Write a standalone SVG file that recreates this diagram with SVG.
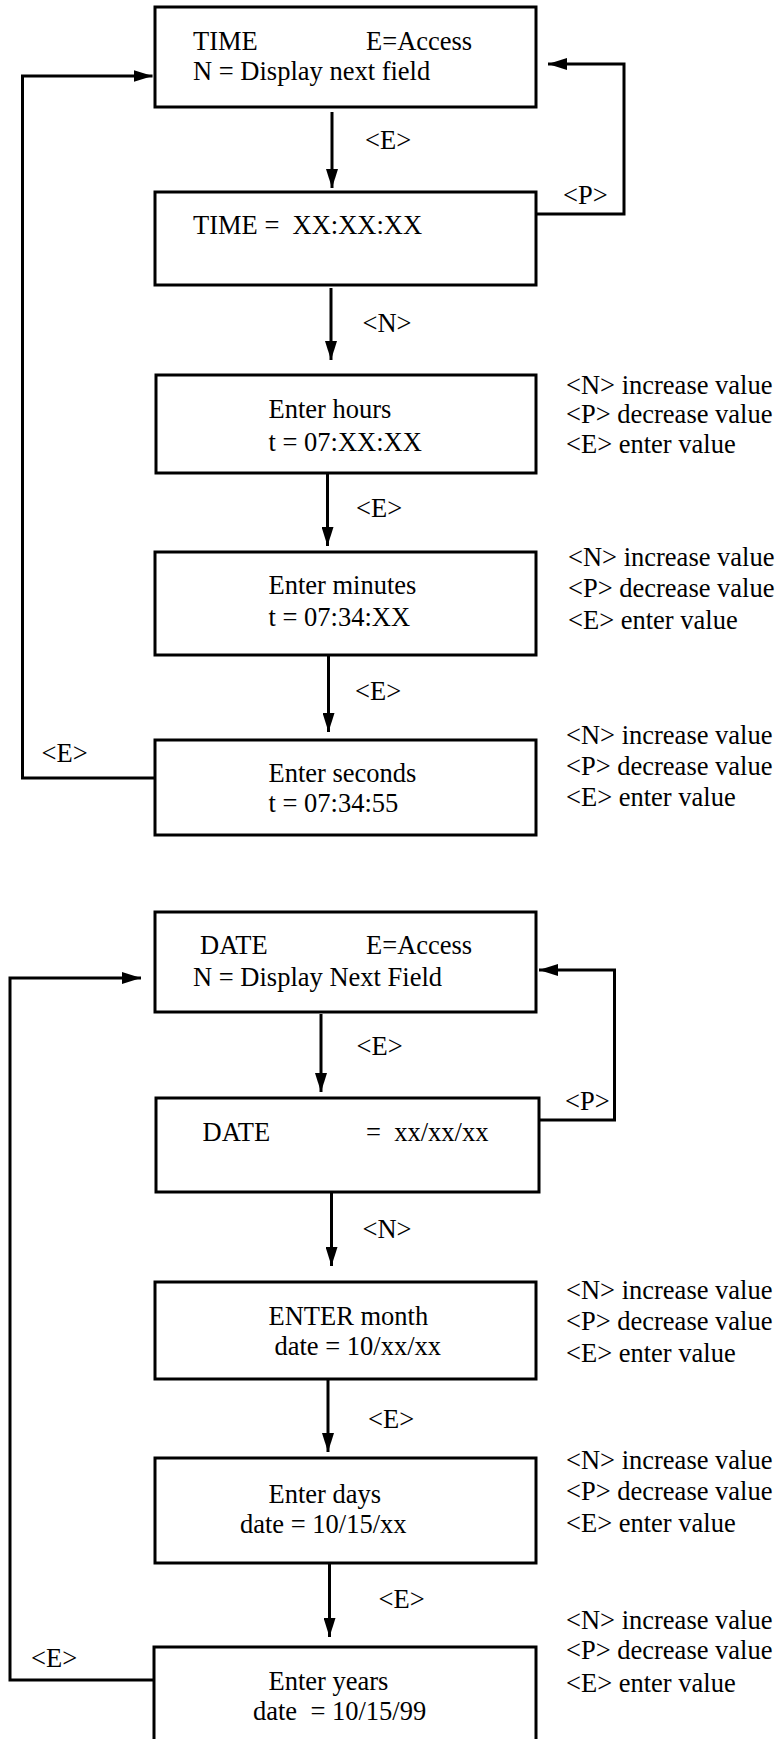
<svg xmlns="http://www.w3.org/2000/svg" width="781" height="1739" viewBox="0 0 781 1739">
<style>
text{font-family:"Liberation Serif","Times New Roman",serif;font-size:26.5px;fill:#000;white-space:pre}
.box{fill:#fff;stroke:#000;stroke-width:3}
.wire{fill:none;stroke:#000;stroke-width:3}
</style>
<defs>
<marker id="ah" markerUnits="userSpaceOnUse" markerWidth="19" markerHeight="12" refX="19" refY="6" orient="auto">
<path d="M0,0 L19,6 L0,12 z" fill="#000"/>
</marker>
</defs>
<rect width="781" height="1739" fill="#fff"/>
<g id="connectors">
<path class="wire" d="M332,112 V188" marker-end="url(#ah)"/>
<path class="wire" d="M331,288 V360" marker-end="url(#ah)"/>
<path class="wire" d="M327.5,473 V546" marker-end="url(#ah)"/>
<path class="wire" d="M328.5,655 V732" marker-end="url(#ah)"/>
<path class="wire" d="M535,214 H624 V64 H548" marker-end="url(#ah)"/>
<path class="wire" d="M155,778 H22.5 V76 H152.5" marker-end="url(#ah)"/>
<path class="wire" d="M321,1014 V1092" marker-end="url(#ah)"/>
<path class="wire" d="M331.5,1193 V1266" marker-end="url(#ah)"/>
<path class="wire" d="M328,1379 V1452" marker-end="url(#ah)"/>
<path class="wire" d="M329.5,1563 V1637" marker-end="url(#ah)"/>
<path class="wire" d="M540,1120 H614.5 V970 H539" marker-end="url(#ah)"/>
<path class="wire" d="M154,1680 H10 V978 H141" marker-end="url(#ah)"/>
<text x="365" y="149">&lt;E&gt;</text>
<text x="563" y="204">&lt;P&gt;</text>
<text x="362.5" y="332">&lt;N&gt;</text>
<text x="356" y="517">&lt;E&gt;</text>
<text x="355" y="700">&lt;E&gt;</text>
<text x="41.5" y="762">&lt;E&gt;</text>
<text x="356.5" y="1055">&lt;E&gt;</text>
<text x="565" y="1110">&lt;P&gt;</text>
<text x="362.5" y="1238">&lt;N&gt;</text>
<text x="368" y="1428">&lt;E&gt;</text>
<text x="378.5" y="1608">&lt;E&gt;</text>
<text x="31" y="1667">&lt;E&gt;</text>
</g>
<g id="time-menu">
<rect class="box" x="155" y="7" width="381" height="100"/>
<text x="193" y="50">TIME</text>
<text x="366" y="50">E=Access</text>
<text x="193" y="80">N = Display next field</text>
</g>
<g id="time-value">
<rect class="box" x="155" y="192" width="381" height="93"/>
<text x="193" y="234">TIME =  XX:XX:XX</text>
</g>
<g id="enter-hours">
<rect class="box" x="156" y="375" width="380" height="98"/>
<text x="268.5" y="418">Enter hours</text>
<text x="268.5" y="451">t = 07:XX:XX</text>
<text x="566" y="394">&lt;N&gt; increase value</text>
<text x="566" y="423">&lt;P&gt; decrease value</text>
<text x="566" y="453">&lt;E&gt; enter value</text>
</g>
<g id="enter-minutes">
<rect class="box" x="155" y="552" width="381" height="103"/>
<text x="268.5" y="594">Enter minutes</text>
<text x="268.5" y="626">t = 07:34:XX</text>
<text x="568" y="566">&lt;N&gt; increase value</text>
<text x="568" y="597">&lt;P&gt; decrease value</text>
<text x="568" y="629">&lt;E&gt; enter value</text>
</g>
<g id="enter-seconds">
<rect class="box" x="155" y="740" width="381" height="95"/>
<text x="268.5" y="782">Enter seconds</text>
<text x="268.5" y="812">t = 07:34:55</text>
<text x="566" y="744">&lt;N&gt; increase value</text>
<text x="566" y="775">&lt;P&gt; decrease value</text>
<text x="566" y="806">&lt;E&gt; enter value</text>
</g>
<g id="date-menu">
<rect class="box" x="155" y="912" width="381" height="100"/>
<text x="200" y="954">DATE</text>
<text x="366" y="954">E=Access</text>
<text x="193" y="986">N = Display Next Field</text>
</g>
<g id="date-value">
<rect class="box" x="156" y="1098" width="383" height="94"/>
<text x="202.5" y="1141">DATE</text>
<text x="366" y="1141">=  xx/xx/xx</text>
</g>
<g id="enter-month">
<rect class="box" x="155" y="1282" width="381" height="97"/>
<text x="268.5" y="1325">ENTER month</text>
<text x="274.5" y="1355">date = 10/xx/xx</text>
<text x="566" y="1299">&lt;N&gt; increase value</text>
<text x="566" y="1330">&lt;P&gt; decrease value</text>
<text x="566" y="1362">&lt;E&gt; enter value</text>
</g>
<g id="enter-days">
<rect class="box" x="155" y="1458" width="381" height="105"/>
<text x="268.5" y="1503">Enter days</text>
<text x="240" y="1533">date = 10/15/xx</text>
<text x="566" y="1469">&lt;N&gt; increase value</text>
<text x="566" y="1500">&lt;P&gt; decrease value</text>
<text x="566" y="1532">&lt;E&gt; enter value</text>
</g>
<g id="enter-years">
<rect class="box" x="154" y="1647" width="382" height="100"/>
<text x="268.5" y="1690">Enter years</text>
<text x="253" y="1720">date  = 10/15/99</text>
<text x="566" y="1629">&lt;N&gt; increase value</text>
<text x="566" y="1659">&lt;P&gt; decrease value</text>
<text x="566" y="1692">&lt;E&gt; enter value</text>
</g>
</svg>
